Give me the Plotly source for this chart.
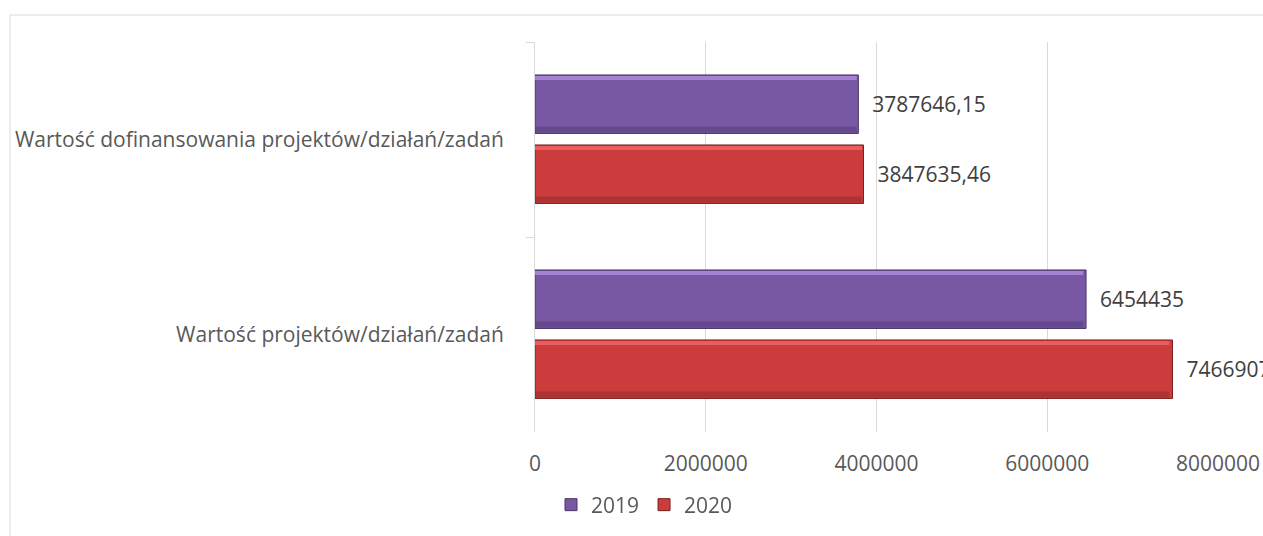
import plotly.graph_objects as go

categories = ["Wartość dofinansowania projektów/działań/zadań", "Wartość projektów/działań/zadań"]
series_names = ["2019", "2020"]
values_2019 = [3787646.15, 6454435]
values_2020 = [3847635.46, 7466907]
x_ticks = [0, 2000000, 4000000, 6000000, 8000000]

def fmt(v):
    s = f"{v:.2f}".rstrip("0").rstrip(".")
    return s.replace(".", ",")

W, H = 1263, 536
L, R, T, B = 535, 1218, 42, 432
PX = 1.0 / ((B - T) / 2)  # category units per pixel
FS = 21

styles = {
    "2019": dict(main="#7857a3", top="#b18ce0", bot="#573f7c", line="#4a3668", off=-0.331),
    "2020": dict(main="#cc3c3c", top="#f06868", bot="#942b2b", line="#7a2020", off=0.028),
}
WIDTH = 0.300

fig = go.Figure()
for name, vals in zip(series_names, [values_2019, values_2020]):
    st = styles[name]
    fig.add_trace(go.Bar(
        name=name, y=categories, x=vals, orientation="h",
        width=WIDTH, offset=st["off"],
        marker=dict(color=st["main"], line=dict(color=st["line"], width=1)),
        text=["\u00a0\u00a0" + fmt(v) for v in vals], textposition="outside",
        outsidetextfont=dict(family="Open Sans", size=FS, color="#404040"),
        constraintext="none", cliponaxis=False,
    ))
    # bevel highlight (top) and shadow (bottom) stripes
    fig.add_trace(go.Bar(
        y=categories, x=[v * 0.995 for v in vals], orientation="h",
        width=4 * PX, offset=st["off"] + 1 * PX,
        marker=dict(color=st["top"], line=dict(width=0)), opacity=0.8,
        showlegend=False, hoverinfo="skip",
    ))
    fig.add_trace(go.Bar(
        y=categories, x=[v * 0.995 for v in vals], orientation="h",
        width=6 * PX, offset=st["off"] + WIDTH - 7 * PX,
        marker=dict(color=st["bot"], line=dict(width=0)), opacity=0.55,
        showlegend=False, hoverinfo="skip",
    ))

pw, ph = R - L, B - T
fig.add_shape(type="rect", xref="paper", yref="paper",
              x0=(10 - L) / pw, x1=3, y0=-3, y1=(B - 15) / ph,
              line=dict(color="#d9d9d9", width=1), fillcolor="rgba(0,0,0,0)", layer="below")

fig.update_layout(
    width=W, height=H,
    margin=dict(l=L, r=W - R, t=T, b=H - B, pad=0, autoexpand=False),
    paper_bgcolor="white", plot_bgcolor="white",
    barmode="overlay",
    font=dict(family="Open Sans", size=FS, color="#595959"),
    xaxis=dict(range=[0, 8000000], tickvals=x_ticks, ticktext=[str(v) for v in x_ticks],
               showgrid=True, gridcolor="#d9d9d9", gridwidth=1, zeroline=False,
               showline=False, ticks="", ticklabelstandoff=17, automargin=False,
               tickfont=dict(size=FS, color="#595959")),
    yaxis=dict(type="category", categoryorder="array", categoryarray=categories,
               autorange="reversed", showline=True, linecolor="#d9d9d9", linewidth=1,
               ticks="outside", ticklen=8, tickcolor="#d9d9d9", tickson="boundaries",
               ticklabelstandoff=26, showgrid=False, automargin=False,
               tickfont=dict(size=FS, color="#595959")),
    legend=dict(orientation="h", x=(551 - L) / pw, xanchor="left",
                y=(B - 505) / ph, yanchor="middle",
                font=dict(size=FS, color="#595959"), itemwidth=30,
                bgcolor="rgba(0,0,0,0)"),
    showlegend=True,
)

fig.write_html("out.html", config={"displayModeBar": False},
               post_script="document.body.style.margin='0';document.body.style.overflow='hidden';")
